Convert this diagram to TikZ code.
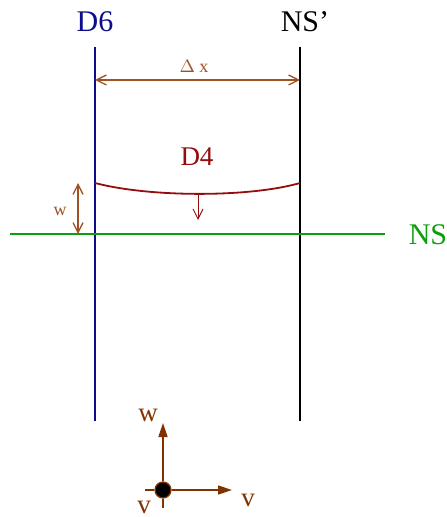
\documentclass[tikz,border=0pt]{standalone}
\usepackage{fontspec}
\setmainfont{Liberation Serif}
\usetikzlibrary{arrows.meta}
\definecolor{dsixblue}{rgb}{0.05,0.05,0.55}
\definecolor{dfourred}{rgb}{0.58,0.05,0.05}
\definecolor{nsgreen}{rgb}{0.05,0.62,0.05}
\definecolor{dimbrown}{rgb}{0.62,0.32,0.14}
\definecolor{axisbrown}{rgb}{0.5,0.2,0.0}
\begin{document}
\begin{tikzpicture}[x=0.5pt, y=-0.5pt, line width=0.65pt,
          lbl/.style={inner sep=0pt},
          dimarrow/.style={draw=dimbrown, {Straight Barb[length=5pt,width=5pt]}-{Straight Barb[length=5pt,width=5pt]}},
          downarrow/.style={draw=dfourred, -{Straight Barb[length=5pt,width=5pt]}},
          axisarrow/.style={draw=axisbrown, line width=0.8pt, -{Triangle[length=7pt,width=4.5pt]}}]
        \useasboundingbox (0,0) rectangle (446,517);
        % wall lines
        \coordinate (d6top) at (95,47);
        \coordinate (d6bot) at (95,421);
        \coordinate (nstop) at (300,47);
        \coordinate (nsbot) at (300,421);
        \draw[dsixblue] (d6top) -- (d6bot);
        \draw[black] (nstop) -- (nsbot);
        \node[lbl, text=dsixblue, font=\fontsize{15}{17}\selectfont] (d6) at (95,22) {D6};
        \node[lbl, font=\fontsize{15}{17}\selectfont] (nsp) at (305,22) {NS’};
        % spacing
        \coordinate (dxl) at (95,80);
        \coordinate (dxr) at (300,80);
        \draw[dimarrow] (dxl) -- (dxr);
        \node[lbl, text=dimbrown, font=\fontsize{9}{11}\selectfont] (dx) at (194,66) {$\Delta$ x};
        % neutral line
        \coordinate (nsl) at (10,234);
        \coordinate (nsr) at (385,234);
        \draw[nsgreen] (nsl) -- (nsr);
        \node[lbl, text=nsgreen, font=\fontsize{15}{17}\selectfont] (ns) at (428,235) {NS};
        % deflected line
        \coordinate (d4l) at (95,183);
        \coordinate (d4m) at (198,194);
        \coordinate (d4r) at (300,183);
        \coordinate (d4tip) at (198,220);
        \draw[dfourred, line width=0.9pt] (d4l) .. controls (150,197.5) and (250,197.5) .. (d4r);
        \draw[downarrow, line width=0.5pt] (d4m) -- (d4tip);
        \node[lbl, text=dfourred, font=\fontsize{13.5}{15}\selectfont] (d4) at (197,157) {D4};
        % offset
        \coordinate (wtop) at (78,183);
        \coordinate (wbot) at (78,234);
        \draw[dimarrow] (wtop) -- (wbot);
        \node[lbl, text=dimbrown, font=\fontsize{9}{11}\selectfont] (w) at (60,211) {w};
        % axes
        \node[circle, fill=black, draw=axisbrown, inner sep=0pt, minimum size=8pt] (orig) at (163,490) {};
        \coordinate (axup) at (163,423);
        \coordinate (axright) at (232,490);
        \coordinate (axleft) at (145,490);
        \coordinate (axdown) at (163,508);
        \draw[axisbrown] (axleft) -- (orig.west);
        \draw[axisbrown] (orig.south) -- (axdown);
        \draw[axisarrow] (orig.north) -- (axup);
        \draw[axisarrow] (orig.east) -- (axright);
        \node[lbl, text=axisbrown, font=\fontsize{13.5}{15}\selectfont] (axw) at (148,415) {w};
        \node[lbl, text=axisbrown, font=\fontsize{13.5}{15}\selectfont] (axv) at (248,500) {v};
        \node[lbl, text=axisbrown, font=\fontsize{13.5}{15}\selectfont] (axvb) at (144,507) {v};
      \end{tikzpicture}
\end{document}
